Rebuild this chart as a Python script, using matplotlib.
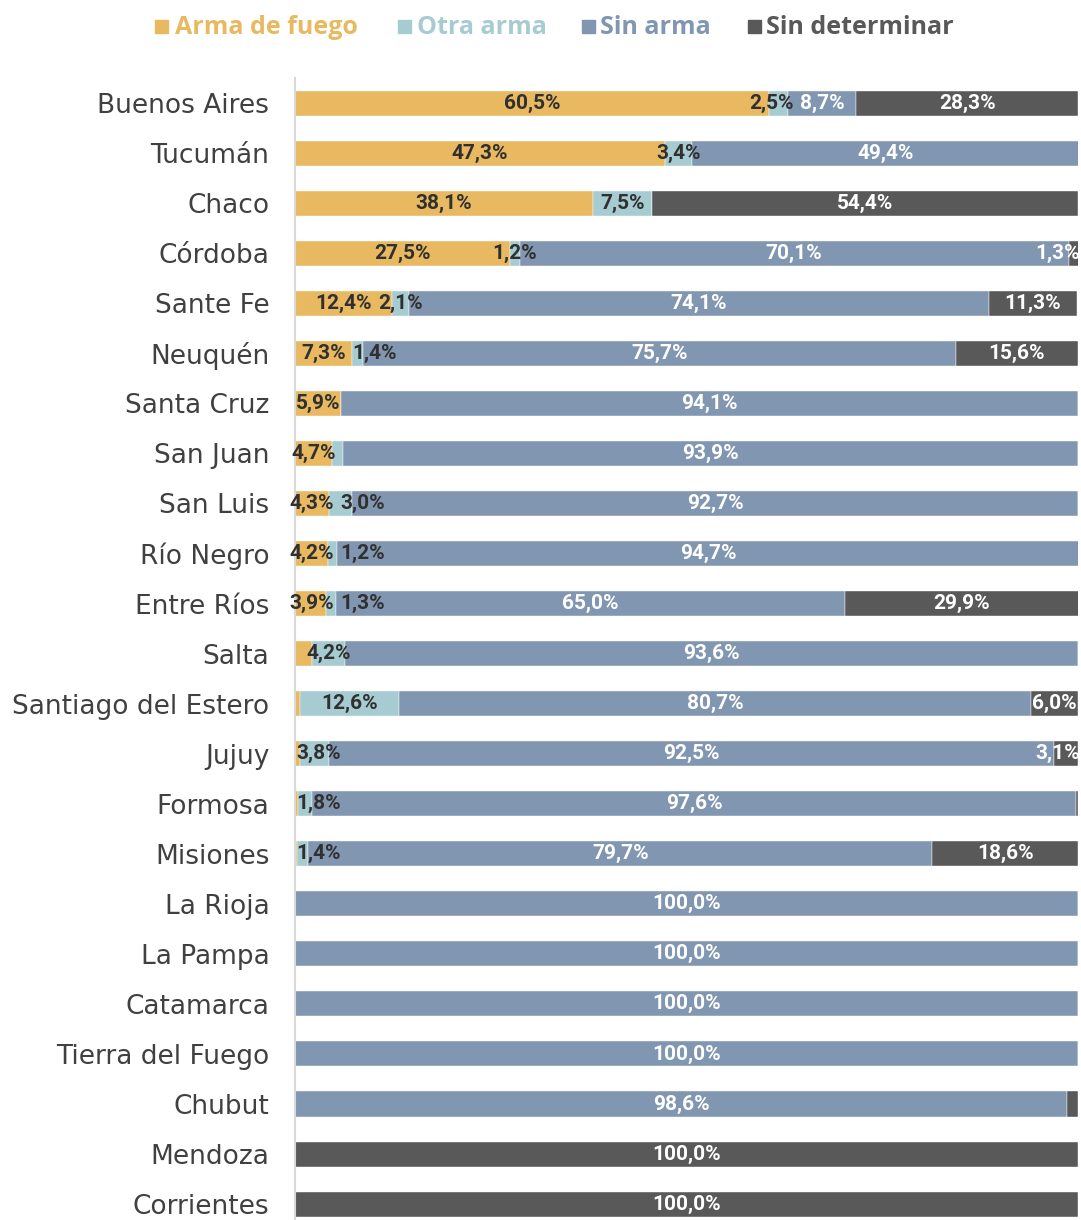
import matplotlib
matplotlib.use("Agg")
import matplotlib.pyplot as plt
from matplotlib.patches import Rectangle
import numpy as np

provinces = ["Buenos Aires", "Tucumán", "Chaco", "Córdoba", "Sante Fe", "Neuquén",
             "Santa Cruz", "San Juan", "San Luis", "Río Negro", "Entre Ríos", "Salta",
             "Santiago del Estero", "Jujuy", "Formosa", "Misiones", "La Rioja",
             "La Pampa", "Catamarca", "Tierra del Fuego", "Chubut", "Mendoza", "Corrientes"]

series_names = ["Arma de fuego", "Otra arma", "Sin arma", "Sin determinar"]

arma_fuego = [60.5, 47.3, 38.1, 27.5, 12.4, 7.3, 5.9, 4.7, 4.3, 4.2, 3.9, 2.2,
              0.7, 0.6, 0.4, 0.3, 0, 0, 0, 0, 0, 0, 0]
otra_arma = [2.5, 3.4, 7.5, 1.2, 2.1, 1.4, 0, 1.4, 3.0, 1.2, 1.3, 4.2,
             12.6, 3.8, 1.8, 1.4, 0, 0, 0, 0, 0, 0, 0]
sin_arma = [8.7, 49.4, 0, 70.1, 74.1, 75.7, 94.1, 93.9, 92.7, 94.7, 65.0, 93.6,
            80.7, 92.5, 97.6, 79.7, 100.0, 100.0, 100.0, 100.0, 98.6, 0, 0]
sin_determinar = [28.3, 0, 54.4, 1.3, 11.3, 15.6, 0, 0, 0, 0, 29.9, 0,
                  6.0, 3.1, 0.2, 18.6, 0, 0, 0, 0, 1.4, 100.0, 100.0]

# segments whose value is not printed in the reference (row, series)
unlabeled = {(7, 1), (11, 0), (12, 0), (13, 0), (14, 0), (14, 3), (15, 0), (20, 3)}

colors = ["#E8B961", "#A6CBD1", "#8196B0", "#595959"]
label_colors = ["#303030", "#303030", "white", "white"]

W, H = 1081, 1220
fig = plt.figure(figsize=(W / 100, H / 100), dpi=100)
ax_left, ax_right = 295 / W, 1078 / W
ax_top = 1 - 78 / H
ax = fig.add_axes([ax_left, 0, ax_right - ax_left, ax_top])

data = [arma_fuego, otra_arma, sin_arma, sin_determinar]
n = len(provinces)
y = np.arange(n)
left = np.zeros(n)
for vals, col in zip(data, colors):
    v = np.array(vals, dtype=float)
    ax.barh(y, v, left=left, height=0.5, color=col, edgecolor="white", linewidth=0.3)
    left += v

ax.set_xlim(0, 100)
ax.set_ylim((H - 103) / 50.05, -0.5)
ax.set_xticks([])
ax.set_yticks(y)
ax.set_yticklabels(provinces, fontsize=19, color="#404040", family=["DejaVu Sans"])
ax.tick_params(axis="y", length=0, pad=18.5)
for s in ["top", "right", "bottom"]:
    ax.spines[s].set_visible(False)
ax.spines["left"].set_color("#d9d9d9")
ax.spines["left"].set_linewidth(1.5)

# data labels with simple overlap avoidance
fig.canvas.draw()
renderer = fig.canvas.get_renderer()
px_per_unit = (ax_right - ax_left) * W / 100.0
label_font = dict(fontsize=15, fontweight="bold", family=["Roboto", "DejaVu Sans"])
gap = 6 / px_per_unit
for i in range(n):
    items = []
    start = 0.0
    prev_unlabeled = False
    for k, vals in enumerate(data):
        v = vals[i]
        if v > 0 and (i, k) not in unlabeled:
            txt = f"{v:.1f}%".replace(".", ",")
            t = ax.text(start + v / 2, i, txt, ha="center", va="center",
                        color=label_colors[k], **label_font)
            w = t.get_window_extent(renderer).width / px_per_unit
            items.append([t, start + v / 2, w, v, start])
        start += v
    for it in items:
        it[1] = max(it[1], 0.2 + it[2] / 2) if it[4] > 0 else max(it[1], -0.7 + it[2] / 2)
    # resolve overlaps: move the label of the narrower segment
    for j in range(1, len(items)):
        a, b = items[j - 1], items[j]
        overlap = (a[1] + a[2] / 2 + gap) - (b[1] - b[2] / 2)
        if overlap > 0:
            if b[3] <= a[3]:
                b[1] += overlap
            else:
                a[1] -= overlap
    for it in items:
        it[1] = min(it[1], 100.2 - it[2] / 2)
        it[0].set_x(it[1])

# legend
leg_items = [(155, 175), (398, 417), (582, 600), (748, 766)]
for (sx, tx), name, col in zip(leg_items, series_names, colors):
    fig.patches.append(Rectangle((sx / W, 1 - 33 / H), 13 / W, 13 / H,
                                 transform=fig.transFigure, color=col, figure=fig))
    fig.text(tx / W, 1 - 27 / H, name, ha="left", va="center", color=col,
             fontsize=18, fontweight="bold", family=["Open Sans", "DejaVu Sans"])

fig.savefig("out.png", dpi=100, facecolor="white")
